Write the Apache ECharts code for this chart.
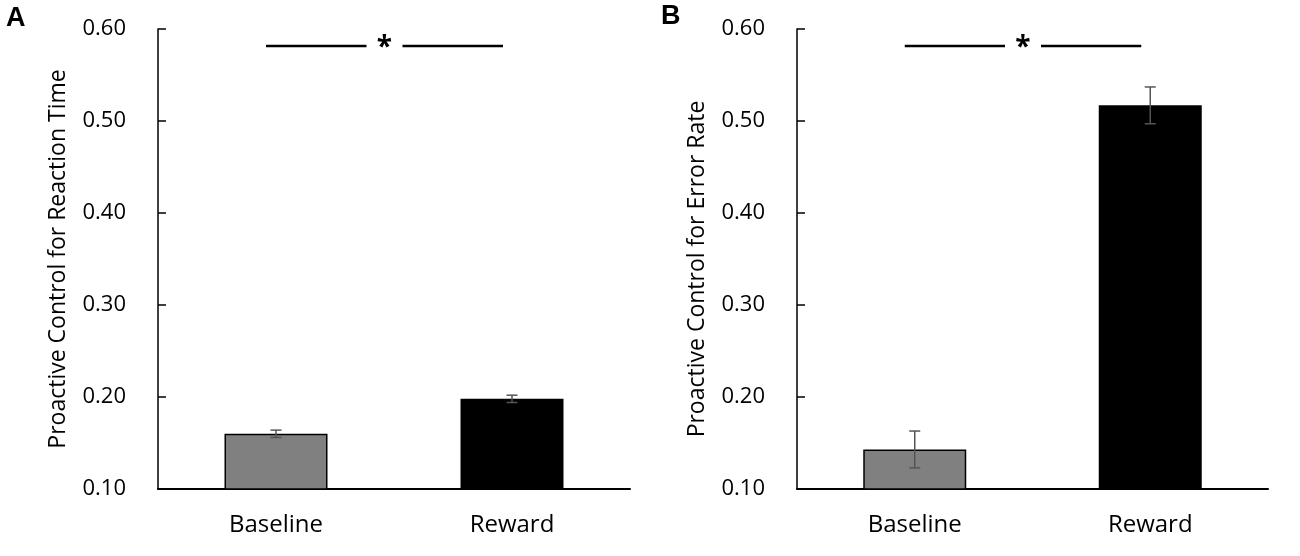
<!DOCTYPE html>
<html>
<head>
<meta charset="utf-8">
<script src="https://cdn.jsdelivr.net/npm/echarts@6/dist/echarts.min.js"></script>
<style>
  html, body { margin: 0; padding: 0; background: #fff; }
  #chart { width: 1300px; height: 556px; }
</style>
</head>
<body>
<div id="chart"></div>
<script>
// data
var categories = ['Baseline', 'Reward'];
var rtMeans = [0.160, 0.198];
var rtErrors = [0.004, 0.004];
var erMeans = [0.143, 0.517];
var erErrors = [0.020, 0.020];
var yMin = 0.10, yMax = 0.60, yStep = 0.10;
var sigLevel = 0.58;
var panelNames = ['Proactive Control for Reaction Time', 'Proactive Control for Error Rate'];
var barColors = ['#808080', '#000000'];

var font = '"Open Sans", sans-serif';

function barData(means) {
    return means.map(function (v, i) {
        return {
            value: v,
            itemStyle: {
                color: barColors[i],
                borderColor: '#000',
                borderWidth: i === 0 ? 1.5 : 0
            }
        };
    });
}

function errData(means, errs) {
    return means.map(function (v, i) {
        return [i, v - errs[i], v + errs[i]];
    });
}

function renderErr(params, api) {
    var lo = api.coord([api.value(0), api.value(1)]);
    var hi = api.coord([api.value(0), api.value(2)]);
    var half = 5.5;
    var style = { stroke: '#555', lineWidth: 1.5 };
    return {
        type: 'group',
        children: [
            { type: 'line', shape: { x1: hi[0], y1: hi[1], x2: lo[0], y2: lo[1] }, style: style },
            { type: 'line', shape: { x1: hi[0] - half, y1: hi[1], x2: hi[0] + half, y2: hi[1] }, style: style },
            { type: 'line', shape: { x1: lo[0] - half, y1: lo[1], x2: lo[0] + half, y2: lo[1] }, style: style }
        ]
    };
}

function yAxisFor(idx) {
    return {
        type: 'value',
        gridIndex: idx,
        min: yMin,
        max: yMax,
        interval: yStep,
        name: panelNames[idx],
        nameLocation: 'middle',
        nameGap: 88,
        nameTextStyle: {
            fontFamily: font, fontSize: 23, color: '#000',
            padding: idx === 1 ? [0, 20, 0, 0] : 0
        },
        axisLine: { show: true, lineStyle: { color: '#000', width: 1.5 } },
        axisTick: { show: true, inside: true, length: 8, lineStyle: { color: '#000', width: 1.5 } },
        axisLabel: {
            margin: 32, fontFamily: font, fontSize: 22, color: '#000',
            formatter: function (v) { return v.toFixed(2); }
        },
        splitLine: { show: false }
    };
}

function xAxisFor(idx) {
    return {
        type: 'category',
        gridIndex: idx,
        data: categories,
        axisLine: { show: true, lineStyle: { color: '#000', width: 2 } },
        axisTick: { show: false },
        axisLabel: { margin: 24, fontFamily: font, fontSize: 24, color: '#000' }
    };
}

var chart = echarts.init(document.getElementById('chart'), null, { renderer: 'canvas' });

chart.setOption({
    animation: false,
    backgroundColor: '#fff',
    grid: [
        { left: 158, right: 670, top: 29, bottom: 67 },
        { left: 797, right: 32, top: 29, bottom: 67 }
    ],
    xAxis: [xAxisFor(0), xAxisFor(1)],
    yAxis: [yAxisFor(0), yAxisFor(1)],
    series: [
        { type: 'bar', xAxisIndex: 0, yAxisIndex: 0, barWidth: 103, data: barData(rtMeans) },
        { type: 'custom', xAxisIndex: 0, yAxisIndex: 0, renderItem: renderErr, data: errData(rtMeans, rtErrors), z: 5 },
        { type: 'bar', xAxisIndex: 1, yAxisIndex: 1, barWidth: 103, data: barData(erMeans) },
        { type: 'custom', xAxisIndex: 1, yAxisIndex: 1, renderItem: renderErr, data: errData(erMeans, erErrors), z: 5 }
    ]
});

// significance brackets and panel letters
var graphics = [];
[0, 1].forEach(function (idx) {
    var p0 = chart.convertToPixel({ xAxisIndex: idx, yAxisIndex: idx }, [0, sigLevel]);
    var p1 = chart.convertToPixel({ xAxisIndex: idx, yAxisIndex: idx }, [1, sigLevel]);
    var x0 = p0[0] - 10, x1 = p1[0] - 9, y = Math.round(p0[1]) - 1;
    var mid = (x0 + x1) / 2;
    var lineStyle = { stroke: '#000', lineWidth: 2.5 };
    graphics.push({ type: 'line', shape: { x1: x0, y1: y, x2: mid - 18, y2: y }, style: lineStyle });
    graphics.push({ type: 'line', shape: { x1: mid + 18, y1: y, x2: x1, y2: y }, style: lineStyle });
    graphics.push({
        type: 'text', x: mid, y: y + 2,
        style: { text: '*', font: 'bold 28px ' + font, fill: '#000', align: 'center', verticalAlign: 'middle' }
    });
});
graphics.push({ type: 'text', left: 6, top: 5, style: { text: 'A', font: 'bold 27px "Liberation Sans", Arial, sans-serif', fill: '#000' } });
graphics.push({ type: 'text', left: 661, top: 3, style: { text: 'B', font: 'bold 27px "Liberation Sans", Arial, sans-serif', fill: '#000' } });
chart.setOption({ graphic: graphics });
</script>
</body>
</html>
